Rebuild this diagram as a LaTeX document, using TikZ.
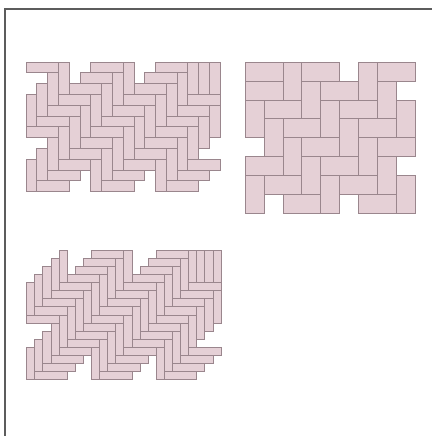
\documentclass[tikz,border=0pt]{standalone}
\usepackage{tikz}
\definecolor{tile}{HTML}{E5D0D6}
\definecolor{joint}{HTML}{9A868D}
\definecolor{edge}{HTML}{5C5C5C}
\tikzset{
  brick/.style={fill=tile, draw=joint, line width=0.6pt},
  border/.style={draw=edge, line width=1.5pt},
}
% herringbone of #1:1 bricks on #2 x #3 cells; #4 slope (+/-),
% #5 and #6 residues of flat and upright bricks, #7 cell left empty
\newcommand{\herringbone}[7]{%
  \pgfmathtruncatemacro\lastc{#2-1}
  \pgfmathtruncatemacro\lastr{#3-1}
  \def\gap{#7}
  \foreach \c in {0,...,\lastc}{
    \foreach \r in {0,...,\lastr}{
      \pgfmathtruncatemacro\k{mod(\c#4\r+2*#1*#3,2*#1)}
      \edef\here{\c/\r}
      \ifnum\k=#5\relax
        \ifnum\numexpr\c+#1\relax>#2\relax\else
          \ifx\here\gap\else\draw[brick] (\c,\r) rectangle ++(#1,1);\fi
        \fi
      \fi
      \ifnum\k=#6\relax
        \ifnum\numexpr\r+#1\relax>#3\relax\else
          \draw[brick] (\c,\r) rectangle ++(1,#1);
        \fi
      \fi
    }
  }
}

\begin{document}
\begin{tikzpicture}[x=1pt, y=-1pt]
  \useasboundingbox (0,0) rectangle (431,436);
  \draw[border] (5,437) -- (5,9) -- (432,9);

  % 3:1 herringbone
  \begin{scope}[shift={(26pt,-62pt)}, x=10.78pt, y=-10.78pt]
    \herringbone{3}{18}{12}{+}{0}{3}{-}
    \draw[brick] (16,0) rectangle ++(1,3);
    \draw[brick] (17,0) rectangle ++(1,3);
  \end{scope}

  % 2:1 herringbone
  \begin{scope}[shift={(245pt,-62pt)}, x=18.9pt, y=-18.9pt]
    \herringbone{2}{9}{8}{-}{3}{2}{-}
    \draw[brick] (0,0) rectangle ++(2,1);
  \end{scope}

  % 4:1 herringbone
  \begin{scope}[shift={(26.5pt,-250pt)}, x=8.1pt, y=-8.1pt]
    \herringbone{4}{24}{16}{+}{0}{4}{0/0}
    \draw[brick] (21,0) rectangle ++(1,4);
    \draw[brick] (22,0) rectangle ++(1,4);
    \draw[brick] (23,0) rectangle ++(1,4);
  \end{scope}
\end{tikzpicture}
\end{document}
